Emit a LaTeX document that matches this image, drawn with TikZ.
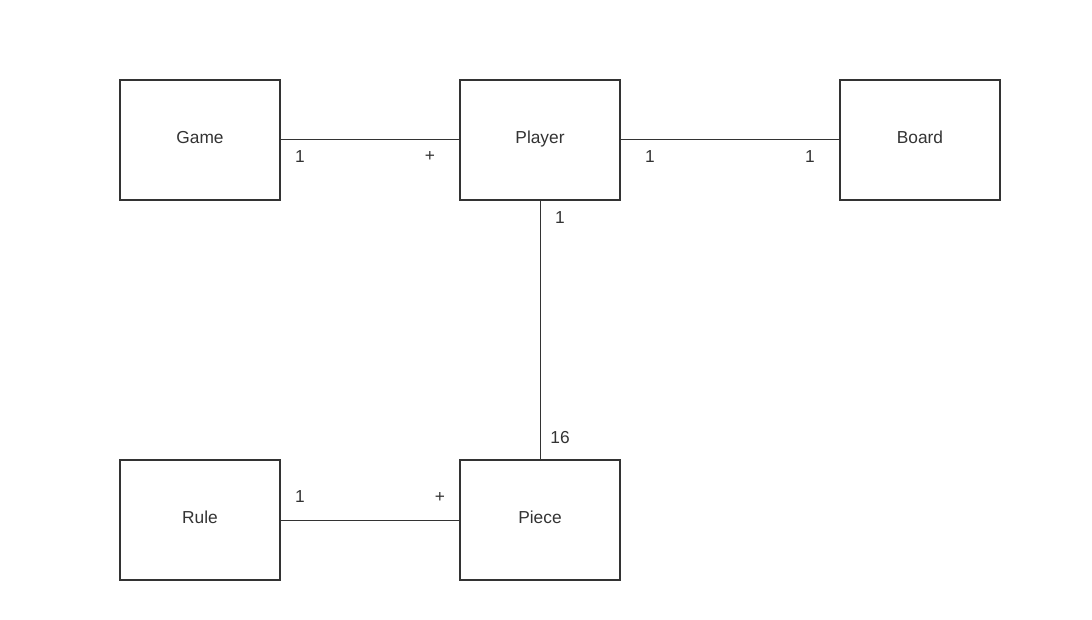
\documentclass[tikz,border=0pt]{standalone}
\usepackage{fontspec}
\setmainfont{Liberation Sans}

\definecolor{linegray}{HTML}{333333}

\tikzset{%
		every class/.style={
			rectangle,
			draw=linegray,
			line width=1.5pt,
			minimum width=120pt,
			minimum height=90pt,
			inner sep=0pt,
			text=linegray,
			font=\fontsize{13}{15}\selectfont
		},
		assoc/.style={
			draw=linegray,
			line width=0.75pt
		},
		mult/.style={
			text=linegray,
			font=\fontsize{13}{15}\selectfont
		},
	}

\begin{document}
\begin{tikzpicture}[x=0.75pt, y=-0.75pt]
			\useasboundingbox (0,0) rectangle (1092,620);
			
			% draw class boxes
			\foreach \n/\l/\x/\y in {game/Game/200/140, player/Player/540/140, board/Board/920/140, rule/Rule/200/520, piece/Piece/540/520}
			\node [every class] (\n) at (\x,\y) {\raisebox{3.5pt}{\l}};
			
			% draw associations
			\draw [assoc] (game) -- (player);
			\draw [assoc] (player) -- (board);
			\draw [assoc] (player) -- (piece);
			\draw [assoc] (rule) -- (piece);
			
			% Annotate multiplicities
			\foreach \l/\x/\y [count=\i] in {1/300/157, +/430/157, 1/650/157, 1/810/157, 1/560/218, 16/560/438, 1/300/497, +/440/497}
			\node [mult] (mult-\i) at (\x,\y) {\l};
\end{tikzpicture}
\end{document}
